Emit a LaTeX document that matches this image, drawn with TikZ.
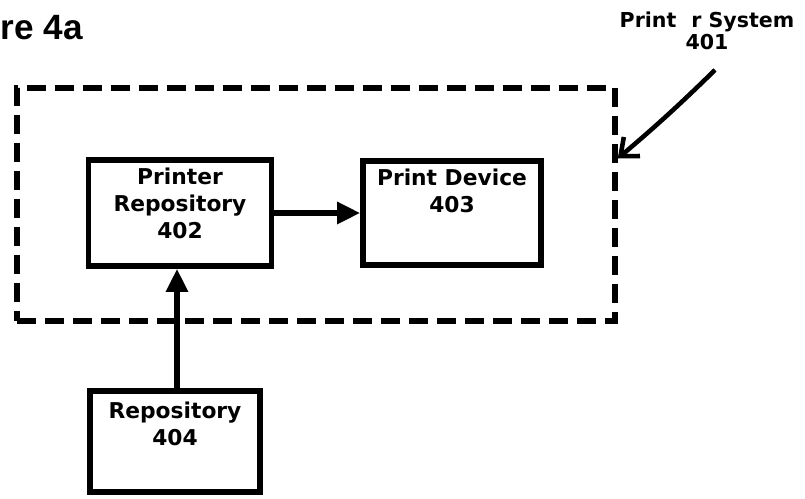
\documentclass[tikz,border=0pt]{standalone}
\usepackage{fontspec}
\setsansfont{DejaVu Sans}
\newfontfamily\titlefont{Liberation Sans}
\usepackage{tikz}
\usetikzlibrary{arrows.meta,positioning}

\begin{document}
\begin{tikzpicture}[x=0.02cm, y=-0.02cm,
  unit/.style={draw, line width=3.2pt, inner sep=0pt},
  txt/.style={font=\sffamily\bfseries\fontsize{12.4}{15.6}\selectfont, align=center, inner sep=0pt},
  intext/.style={txt, anchor=north, yshift=-0.2cm},
  sysbox/.style={draw, line width=3.2pt, dash pattern=on 0.38cm off 0.18cm, inner sep=0pt, minimum width=11.96cm, minimum height=4.66cm},
  flow/.style={line width=3.2pt, -{Triangle[length=0.46cm, width=0.42cm]}},
  leader/.style={line width=2.6pt, -{Straight Barb[length=0.3cm, width=0.5cm]}},
  lab/.style={font=\sffamily\bfseries\fontsize{11.7}{12.5}\selectfont, align=center, inner sep=0pt}]
\useasboundingbox (0,0) rectangle (805,499);
\node[font=\titlefont\bfseries\fontsize{20}{24}\selectfont, anchor=base west, inner sep=0pt] (fig) at (0.5,40) {re 4a};
\node[sysbox] (sys) at (316,204.5) {};
\node[unit, minimum width=3.66cm, minimum height=2.12cm, label={[intext]north:{Printer\\Repository\\402}}] (prep) at (180,213) {};
\node[unit, minimum width=3.56cm, minimum height=2.08cm, label={[intext]north:{Print Device\\403}}] (pdev) at (452,213) {};
\node[unit, minimum width=3.4cm, minimum height=2.02cm, label={[intext, yshift=-0.06cm]north:{Repository\\404}}] (repo) at (175,441.5) {};
\node[lab, anchor=north] (sysl) at (707,12) {Print\hspace{0.73em}r System\\401};
\coordinate (tail) at (715,70);
\draw[flow] (prep.east |- pdev.west) -- (pdev.west);
\draw[flow] ([xshift=0.04cm]repo.north) -- ([xshift=0.04cm]repo.north |- prep.south);
\draw[leader] (tail) to[bend left=2] ([yshift=0.92cm]sys.east);
\end{tikzpicture}
\end{document}
